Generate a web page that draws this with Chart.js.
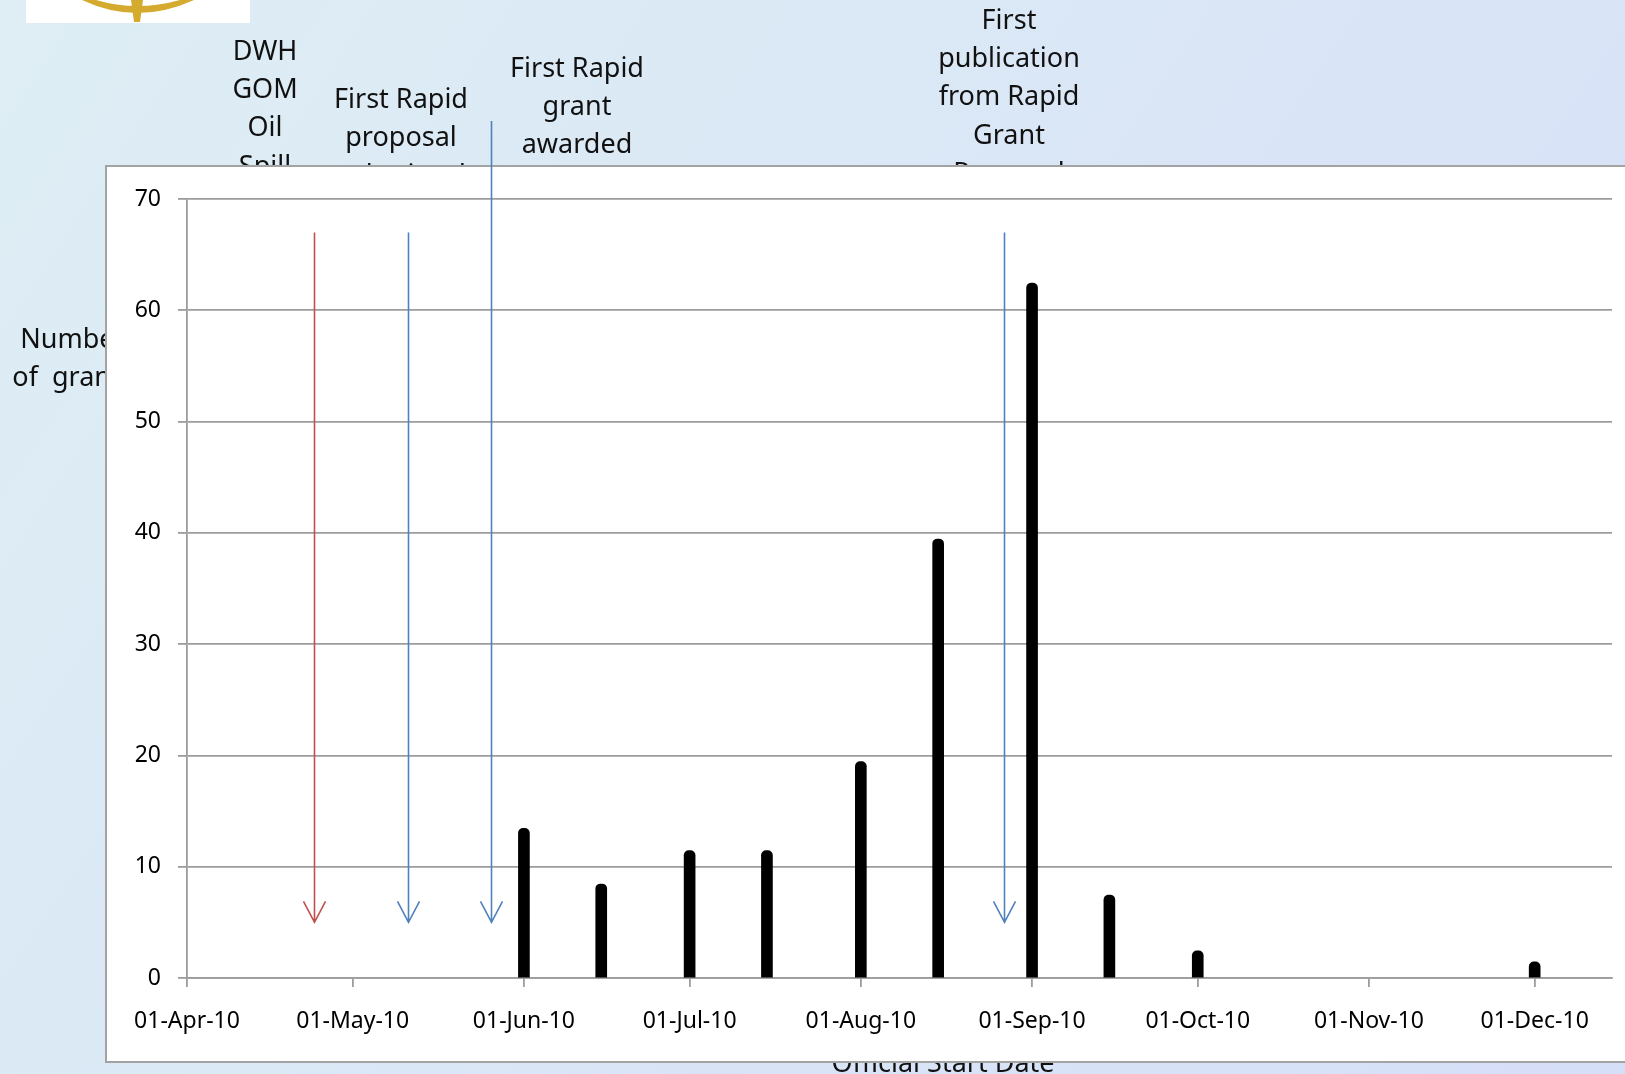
<!DOCTYPE html>
<html>
<head>
<meta charset="utf-8">
<script src="https://cdn.jsdelivr.net/npm/chart.js@4.4.0/dist/chart.umd.min.js"></script>
<style>
  html, body { margin: 0; padding: 0; background: #dde9f5; overflow: hidden; }
  #grants { display: block; }
</style>
</head>
<body>
<canvas id="grants" width="1625" height="1074"></canvas>
<script>
// Rapid grants by official start date, with event markers.

const axisStart = '2010-04-01';
const axisEnd = '2010-12-15';

const startDates = ['2010-06-01', '2010-06-15', '2010-07-01', '2010-07-15', '2010-08-01',
  '2010-08-15', '2010-09-01', '2010-09-15', '2010-10-01', '2010-12-01'];
const grantCounts = [13, 8, 11, 11, 19, 39, 62, 7, 2, 1];

const tickDates = ['2010-04-01', '2010-05-01', '2010-06-01', '2010-07-01', '2010-08-01',
  '2010-09-01', '2010-10-01', '2010-11-01', '2010-12-01'];
const tickLabels = ['01-Apr-10', '01-May-10', '01-Jun-10', '01-Jul-10', '01-Aug-10',
  '01-Sep-10', '01-Oct-10', '01-Nov-10', '01-Dec-10'];

const eventDates = ['2010-04-24', '2010-05-11', '2010-05-26', '2010-08-27'];
const eventFrom = [67, 67, 77, 67];
const eventTo = [5, 5, 5, 5];
const eventLabels = [
  ['DWH', 'GOM', 'Oil', 'Spill'],
  ['First Rapid', 'proposal', 'submitted'],
  ['First Rapid', 'grant', 'awarded'],
  ['First', 'publication', 'from Rapid', 'Grant', 'Proposal'],
];

const yTitle = ['Number', 'of  grants'];
const xTitle = 'Official Start Date';

// styles / layout
const arrowColors = ['#c0504d', '#4f81bd', '#4f81bd', '#4f81bd'];
const labelCenterX = [265, 401, 577, 1009];
const labelFirstY = [52, 100, 69, 21];
const LINE_GAP = 38.4;
const FONT = '"Noto Sans", "Open Sans", sans-serif';
const GRID = '#9c9c9c';
const BOX = { left: 106, top: 166, bottom: 1062 };
const CAP = 5; // the bars are thick lines with a round cap past the value

function dayOf(d) {
  return (Date.parse(d) - Date.parse(axisStart)) / 86400000;
}
const tickDays = tickDates.map(dayOf);

const slidePlugin = {
  id: 'slide',
  beforeDraw(chart) {
    const ctx = chart.ctx;
    const w = chart.width, h = chart.height;
    ctx.save();
    const bg = ctx.createLinearGradient(0, 0, w, h);
    bg.addColorStop(0, '#deeef4');
    bg.addColorStop(1, '#d6dff8');
    ctx.fillStyle = bg;
    ctx.fillRect(0, 0, w, h);

    // logo stub at top left
    ctx.fillStyle = '#ffffff';
    ctx.fillRect(26, 0, 224, 23);
    ctx.fillStyle = '#d4ab2e';
    ctx.beginPath();
    ctx.moveTo(82, 0);
    ctx.quadraticCurveTo(137, 26, 194, 0);
    ctx.lineTo(180, 0);
    ctx.quadraticCurveTo(137, 12, 96, 0);
    ctx.closePath();
    ctx.fill();
    ctx.beginPath();
    ctx.moveTo(131, 0);
    ctx.lineTo(143, 0);
    ctx.lineTo(140, 22);
    ctx.lineTo(134, 22);
    ctx.closePath();
    ctx.fill();

    // event labels (partly hidden behind the chart box)
    ctx.fillStyle = '#111111';
    ctx.font = '27px ' + FONT;
    ctx.textAlign = 'center';
    ctx.textBaseline = 'middle';
    eventLabels.forEach((lines, i) => {
      lines.forEach((t, j) => {
        ctx.fillText(t, labelCenterX[i], labelFirstY[i] + j * LINE_GAP);
      });
    });
    yTitle.forEach((t, j) => ctx.fillText(t, 73, 340 + j * LINE_GAP));
    ctx.textBaseline = 'alphabetic';
    ctx.fillText(xTitle, 943, 1072);

    // white chart box
    ctx.fillStyle = '#ffffff';
    ctx.fillRect(BOX.left, BOX.top, w - BOX.left + 10, BOX.bottom - BOX.top);
    ctx.strokeStyle = '#a3a3a3';
    ctx.lineWidth = 2;
    ctx.strokeRect(BOX.left, BOX.top, w - BOX.left + 10, BOX.bottom - BOX.top);
    ctx.restore();
  },
  beforeDatasetsDraw(chart) {
    const ys = chart.scales.y;
    const meta = chart.getDatasetMeta(0);
    meta.data.forEach((el, i) => {
      el.y = ys.getPixelForValue(grantCounts[i]) - CAP;
    });
  },
  afterDraw(chart) {
    const ctx = chart.ctx;
    const xs = chart.scales.x, ys = chart.scales.y;
    ctx.save();
    ctx.lineWidth = 1.6;
    eventDates.forEach((d, i) => {
      const x = Math.round(xs.getPixelForValue(dayOf(d))) + 0.5;
      const y0 = ys.getPixelForValue(eventFrom[i]);
      const y1 = ys.getPixelForValue(eventTo[i]);
      ctx.strokeStyle = arrowColors[i];
      ctx.beginPath();
      ctx.moveTo(x, y0);
      ctx.lineTo(x, y1);
      ctx.moveTo(x - 11, y1 - 21);
      ctx.lineTo(x, y1);
      ctx.lineTo(x + 11, y1 - 21);
      ctx.stroke();
    });
    ctx.restore();
  },
};

const ctx = document.getElementById('grants').getContext('2d');
new Chart(ctx, {
  type: 'bar',
  data: {
    datasets: [{
      data: startDates.map((d, i) => ({ x: dayOf(d), y: grantCounts[i] })),
      backgroundColor: '#000000',
      barThickness: 11,
      borderRadius: 5,
      borderSkipped: 'start',
    }],
  },
  options: {
    responsive: false,
    animation: false,
    devicePixelRatio: 1,
    layout: { padding: { left: BOX.left, top: 199, right: 13, bottom: 36 } },
    plugins: { legend: { display: false }, tooltip: { enabled: false } },
    scales: {
      x: {
        type: 'linear',
        min: 0,
        max: dayOf(axisEnd),
        offset: false,
        grid: { drawOnChartArea: false, drawTicks: true, tickLength: 9, color: GRID, lineWidth: 1.8, offset: false },
        border: { color: GRID, width: 1.8 },
        ticks: {
          autoSkip: false,
          maxRotation: 0,
          padding: 21,
          color: '#000000',
          font: { family: FONT, size: 23 },
          callback: (v) => tickLabels[tickDays.indexOf(v)] || '',
        },
        afterBuildTicks: (scale) => { scale.ticks = tickDays.map((v) => ({ value: v })); },
        afterFit: (scale) => { scale.height = 60; },
      },
      y: {
        min: 0,
        max: 70,
        grid: { color: GRID, lineWidth: 1.8, tickLength: 9 },
        border: { color: GRID, width: 1.8 },
        ticks: {
          stepSize: 10,
          padding: 17,
          color: '#000000',
          font: { family: FONT, size: 23 },
        },
        afterFit: (scale) => { scale.width = 81; },
      },
    },
  },
  plugins: [slidePlugin],
});
</script>
</body>
</html>
